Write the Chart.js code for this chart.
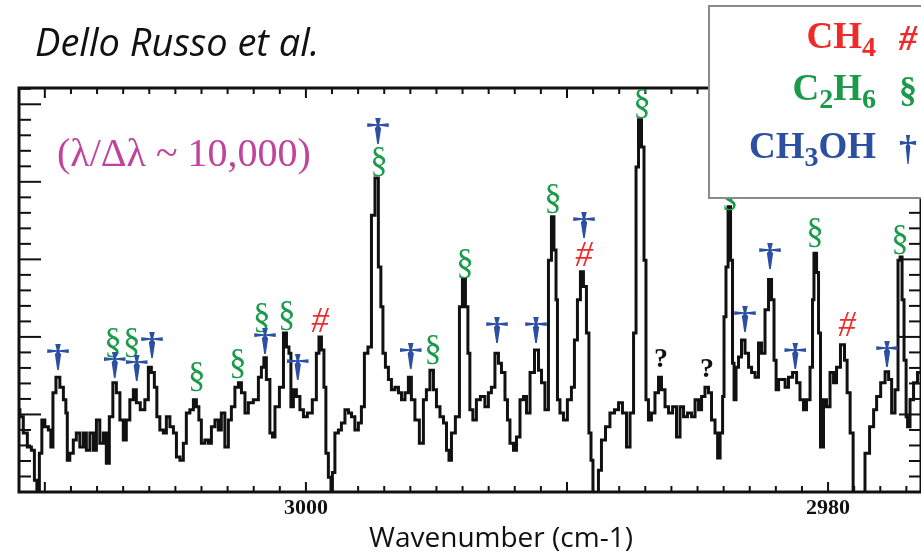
<!DOCTYPE html>
<html>
<head>
<meta charset="utf-8">
<script src="https://cdn.jsdelivr.net/npm/chart.js@4.4.1/dist/chart.umd.min.js"></script>
<style>
  html, body { margin: 0; padding: 0; background: #fff; }
</style>
</head>
<body>
<canvas id="spectrum-chart" width="921" height="553"></canvas>
<script>
// Spectrum trace (wavenumber in cm-1, intensity in arbitrary units)
var wavenumbers = [
  3011.03, 3010.88, 3010.77, 3010.57, 3010.46, 3010.34, 3010.27, 3010.15, 3010.08, 3009.92,
  3009.81, 3009.73, 3009.65, 3009.50, 3009.35, 3009.23, 3009.16, 3009.12, 3008.97, 3008.85,
  3008.74, 3008.58, 3008.47, 3008.35, 3008.20, 3008.08, 3007.97, 3007.82, 3007.70, 3007.59,
  3007.47, 3007.32, 3007.20, 3007.05, 3006.94, 3006.82, 3006.67, 3006.55, 3006.44, 3006.25,
  3006.09, 3005.98, 3005.86, 3005.75, 3005.67, 3005.52, 3005.40, 3005.29, 3005.13, 3005.02,
  3004.90, 3004.75, 3004.64, 3004.52, 3004.37, 3004.25, 3004.14, 3004.06, 3003.95, 3003.79,
  3003.68, 3003.56, 3003.41, 3003.30, 3003.18, 3003.03, 3002.91, 3002.80, 3002.64, 3002.53,
  3002.41, 3002.26, 3002.15, 3001.88, 3001.76, 3001.65, 3001.57, 3001.46, 3001.30, 3001.26,
  3001.11, 3000.92, 3000.80, 3000.69, 3000.61, 3000.54, 3000.42, 3000.31, 3000.15, 3000.04,
  2999.85, 2999.66, 2999.54, 2999.46, 2999.35, 2999.27, 2999.20, 2999.08, 2999.00, 2998.97,
  2998.81, 2998.70, 2998.58, 2998.43, 2998.31, 2998.20, 2998.05, 2997.93, 2997.82, 2997.70,
  2997.55, 2997.43, 2997.28, 2997.17, 2997.09, 2997.01, 2996.90, 2996.78, 2996.67, 2996.51,
  2996.40, 2996.28, 2996.13, 2996.02, 2995.90, 2995.75, 2995.56, 2995.44, 2995.33, 2995.17,
  2995.06, 2994.94, 2994.79, 2994.67, 2994.56, 2994.48, 2994.37, 2994.18, 2994.06, 2993.95,
  2993.83, 2993.76, 2993.68, 2993.53, 2993.41, 2993.22, 2993.07, 2992.95, 2992.84, 2992.68,
  2992.57, 2992.45, 2992.30, 2992.26, 2992.11, 2991.99, 2991.88, 2991.72, 2991.61, 2991.49,
  2991.34, 2991.15, 2991.03, 2990.92, 2990.77, 2990.65, 2990.54, 2990.46, 2990.38, 2990.35,
  2990.19, 2990.08, 2989.89, 2989.77, 2989.66, 2989.54, 2989.43, 2989.31, 2989.20, 2989.12,
  2989.04, 2988.97, 2988.85, 2988.74, 2988.62, 2988.43, 2988.28, 2988.08, 2987.97, 2987.78,
  2987.66, 2987.51, 2987.39, 2987.32, 2987.20, 2987.09, 2987.01, 2986.94, 2986.82, 2986.71,
  2986.55, 2986.44, 2986.32, 2986.17, 2986.05, 2985.86, 2985.75, 2985.59, 2985.48, 2985.29,
  2985.17, 2985.02, 2984.90, 2984.79, 2984.64, 2984.52, 2984.41, 2984.25, 2984.21, 2984.06,
  2984.02, 2983.95, 2983.87, 2983.79, 2983.68, 2983.64, 2983.56, 2983.49, 2983.37, 2983.26,
  2983.10, 2982.99, 2982.87, 2982.72, 2982.61, 2982.49, 2982.34, 2982.22, 2982.11, 2982.03,
  2981.95, 2981.84, 2981.72, 2981.57, 2981.46, 2981.26, 2981.15, 2981.00, 2980.88, 2980.77,
  2980.61, 2980.58, 2980.50, 2980.38, 2980.35, 2980.23, 2980.12, 2980.00, 2979.85, 2979.73,
  2979.62, 2979.43, 2979.31, 2979.23, 2979.08, 2979.00, 2978.89, 2978.66, 2978.51, 2978.31,
  2978.20, 2978.08, 2977.89, 2977.74, 2977.62, 2977.51, 2977.36, 2977.28, 2977.20, 2977.13,
  2977.05, 2976.97, 2976.94, 2976.78, 2976.67, 2976.48
];
var intensity = [
  1.06, 0.97, 0.76, 0.58, 0.54, 0.15, -0.05, 0.50, 0.93, 0.84,
  0.80, 0.58, 1.28, 1.48, 1.35, 1.19, 1.02, 0.41, 0.50, 0.67,
  0.76, 0.58, 0.76, 0.54, 0.76, 0.54, 0.93, 0.63, 0.76, 0.37,
  0.97, 1.41, 1.28, 0.93, 0.67, 0.93, 1.19, 1.32, 1.15, 1.06,
  1.19, 1.61, 1.54, 1.35, 0.97, 0.80, 0.76, 0.97, 0.84, 0.76,
  0.45, 0.41, 0.63, 1.02, 1.06, 1.19, 1.10, 0.93, 0.63, 0.67,
  0.63, 0.84, 0.93, 0.80, 1.02, 0.58, 0.93, 1.10, 1.35, 1.41,
  1.28, 1.02, 1.15, 1.19, 1.48, 1.61, 1.73, 1.45, 0.76, 0.71,
  1.10, 1.35, 2.05, 1.87, 1.79, 1.10, 1.32, 1.23, 1.06, 0.97,
  1.02, 1.19, 1.79, 2.00, 1.83, 1.35, 0.50, 0.19, -0.05, 0.25,
  0.76, 0.80, 0.89, 1.06, 1.02, 0.97, 0.80, 0.89, 1.10, 1.79,
  1.87, 3.57, 4.05, 2.90, 2.39, 1.79, 1.61, 1.45, 1.32, 1.35,
  1.28, 1.19, 1.28, 1.48, 1.19, 0.93, 0.63, 1.19, 1.32, 1.57,
  1.32, 1.10, 0.97, 0.89, 0.54, 0.41, 0.76, 0.97, 2.39, 2.74,
  2.39, 1.79, 1.06, 0.93, 1.19, 1.23, 1.10, 1.28, 1.35, 1.79,
  1.66, 1.54, 1.19, 0.93, 0.63, 0.54, 0.71, 1.19, 1.23, 1.02,
  1.54, 1.83, 1.57, 1.41, 1.06, 2.99, 3.55, 3.12, 2.48, 1.19,
  1.02, 0.93, 1.19, 1.35, 1.96, 2.48, 2.84, 2.65, 2.05, 0.76,
  0.41, -0.05, -0.05, 0.28, 0.67, 0.84, 1.02, 1.06, 1.15, 1.02,
  0.58, 1.02, 2.05, 4.19, 4.80, 4.45, 2.99, 1.19, 0.93, 1.02,
  1.28, 1.48, 1.32, 1.10, 1.02, 1.10, 0.71, 1.10, 0.97, 1.02,
  0.97, 1.19, 1.06, 1.23, 1.35, 1.28, 0.93, 0.76, 0.44, 0.76,
  1.23, 2.26, 2.90, 3.68, 2.99, 1.66, 1.19, 1.61, 1.74, 1.96,
  1.79, 1.61, 1.54, 1.48, 1.92, 1.79, 2.35, 2.74, 2.48, 1.70,
  1.32, 1.45, 1.45, 1.35, 1.48, 1.54, 1.41, 1.19, 1.06, 1.19,
  1.61, 2.48, 3.08, 2.83, 2.05, 0.58, 1.19, 1.10, 1.54, 1.41,
  1.61, 1.90, 1.70, 1.28, 0.76, -0.05, -0.05, -0.05, 0.50, 0.84,
  1.06, 1.23, 1.41, 1.55, 1.45, 1.02, 1.32, 2.99, 3.03, 2.48,
  1.70, 0.97, 0.84, 1.19, 1.41, 1.54
];

// Line assignments marked above the peaks
var labelWavenumbers = [
  3009.50, 3007.39, 3006.67, 3007.32, 3006.48, 3005.90, 3004.18, 3002.61, 3001.69, 3001.57,
  3000.73, 3000.31, 2999.46, 2997.24, 2997.20, 2995.98, 2995.13, 2993.91, 2992.68, 2991.19,
  2990.54, 2989.35, 2989.35, 2987.13, 2986.40, 2984.64, 2983.76, 2983.18, 2982.22, 2981.26,
  2980.50, 2979.27, 2977.74, 2977.24
];
var labelHeights = [
  1.73, 1.92, 1.92, 1.63, 1.59, 1.88, 1.48, 1.65, 2.25, 1.94,
  2.27, 1.60, 2.18, 4.65, 4.26, 1.75, 1.83, 2.94, 2.08, 2.08,
  3.78, 3.43, 3.03, 5.01, 1.70, 1.57, 3.82, 2.22, 3.03, 1.75,
  3.34, 2.13, 1.77, 3.25
];
var labelSymbols = [
  "†", "§", "§", "†", "†", "†", "§", "§", "§", "†",
  "§", "†", "#", "†", "§", "†", "§", "§", "†", "†",
  "§", "†", "#", "§", "?", "?", "§", "†", "†", "†",
  "§", "#", "†", "§"
];

var tickValues = [3000, 2980];
var tickLabels = ["3000", "2980"];

var speciesFormulas = ["CH_4", "C_2H_6", "CH_3OH"];
var speciesSymbols = ["#", "§", "†"];

document.addEventListener("DOMContentLoaded", function () {
  var ctx = document.getElementById("spectrum-chart").getContext("2d");

  var symbolColors = { "†": "#2c4fa3", "§": "#1b9a4b", "#": "#ee2a2a", "?": "#111111" };
  var symbolFonts = {
    "†": "bold 32px 'Liberation Serif'",
    "§": "35px 'Liberation Serif'",
    "#": "italic 35px 'Liberation Serif'",
    "?": "bold 28px 'Liberation Serif'"
  };

  function line(c, x1, y1, x2, y2) {
    c.beginPath();
    c.moveTo(x1, y1);
    c.lineTo(x2, y2);
    c.stroke();
  }

  // draw a formula like "C_2H_6" with subscripts, right aligned at x
  function drawFormula(c, str, rightX, baseline, color) {
    var parts = [];
    for (var i = 0; i < str.length; i++) {
      if (str[i] === "_") {
        parts.push({ t: str[i + 1], sub: true });
        i++;
      } else {
        parts.push({ t: str[i], sub: false });
      }
    }
    var big = "bold 37px 'Liberation Serif'";
    var small = "bold 28px 'Liberation Serif'";
    var total = 0;
    parts.forEach(function (p) {
      c.font = p.sub ? small : big;
      p.w = c.measureText(p.t).width;
      total += p.w;
    });
    var x = rightX - total;
    c.fillStyle = color;
    c.textAlign = "left";
    c.textBaseline = "alphabetic";
    parts.forEach(function (p) {
      c.font = p.sub ? small : big;
      c.fillText(p.t, x, p.sub ? baseline + 8 : baseline);
      x += p.w;
    });
  }

  var decorPlugin = {
    id: "spectrumDecor",
    afterDraw: function (chart) {
      var c = chart.ctx;
      var xs = chart.scales.x;
      var ys = chart.scales.y;
      var a = chart.chartArea;
      c.save();

      // frame
      c.strokeStyle = "#111";
      c.lineWidth = 3;
      c.strokeRect(a.left, a.top, a.right - a.left, a.bottom - a.top);

      // inward ticks, x: 1 cm-1 minor, 10 cm-1 major
      c.lineWidth = 2;
      for (var w = Math.ceil(xs.min); w <= xs.max; w++) {
        var px = xs.getPixelForValue(w);
        var len = w % 10 === 0 ? 10 : 6;
        line(c, px, a.bottom, px, a.bottom - len);
        line(c, px, a.top, px, a.top + len);
      }
      // y: 0.2 minor, 1 major
      for (var k = 0; k * 0.2 <= ys.max; k++) {
        var py = ys.getPixelForValue(k * 0.2);
        var ylen = k % 5 === 0 ? 22 : 12;
        line(c, a.left, py, a.left + ylen, py);
        line(c, a.right, py, a.right - ylen, py);
      }

      // x tick labels
      c.fillStyle = "#111";
      c.font = "bold 22px 'Liberation Serif'";
      c.textAlign = "center";
      c.textBaseline = "alphabetic";
      tickValues.forEach(function (v, i) {
        c.fillText(tickLabels[i], xs.getPixelForValue(v), 514);
      });

      // axis title
      c.font = "28px 'Open Sans'";
      c.fillText("Wavenumber (cm-1)", 501, 547);

      // resolution note
      c.fillStyle = "#c0449c";
      c.font = "40px 'Liberation Serif'";
      c.textAlign = "left";
      c.fillText("(\u03bb/\u0394\u03bb ~ 10,000)", 57, 166);

      // title
      c.fillStyle = "#111";
      c.font = "italic 38px 'Open Sans'";
      c.fillText("Dello Russo et al.", 35, 56);

      // peak assignments
      c.textAlign = "center";
      c.textBaseline = "middle";
      labelSymbols.forEach(function (s, i) {
        c.font = symbolFonts[s];
        c.fillStyle = symbolColors[s];
        var x = xs.getPixelForValue(labelWavenumbers[i]);
        var y = ys.getPixelForValue(labelHeights[i]);
        if (s === "†") {
          // the dagger in the figure is much wider than the font glyph
          c.save();
          c.translate(x, y);
          c.scale(1.5, 1);
          c.fillText(s, 0, 0);
          c.restore();
        } else {
          c.fillText(s, x, y);
        }
      });

      // species key
      c.fillStyle = "#fff";
      c.fillRect(709, 6, 240, 192);
      c.strokeStyle = "#8a8a8a";
      c.lineWidth = 2;
      c.strokeRect(709, 6, 240, 192);
      var baselines = [48, 100, 158];
      speciesFormulas.forEach(function (f, i) {
        var col = symbolColors[speciesSymbols[i]];
        drawFormula(c, f, 876, baselines[i], col);
        c.font = i === 0 ? "italic bold 36px 'Liberation Serif'" : "bold 36px 'Liberation Serif'";
        c.fillStyle = col;
        c.textAlign = "left";
        c.textBaseline = "alphabetic";
        c.fillText(speciesSymbols[i], 899, baselines[i] + 2);
      });

      c.restore();
    }
  };

  new Chart(ctx, {
    type: "line",
    data: {
      datasets: [
        {
          label: "Spectrum",
          data: wavenumbers.map(function (w, i) {
            return { x: w, y: intensity[i] };
          }),
          borderColor: "#111",
          borderWidth: 3,
          pointRadius: 0,
          stepped: "middle",
          fill: false,
        },
      ],
    },
    options: {
      responsive: false,
      animation: false,
      layout: { padding: { left: 19, right: 0, top: 88, bottom: 61 } },
      plugins: { legend: { display: false }, tooltip: { enabled: false }, title: { display: false } },
      scales: {
        x: { type: "linear", reverse: true, min: 2976.44, max: 3010.99, display: false },
        y: { type: "linear", min: 0, max: 5.21, display: false },
      },
    },
    plugins: [decorPlugin],
  });
});
</script>
</body>
</html>
